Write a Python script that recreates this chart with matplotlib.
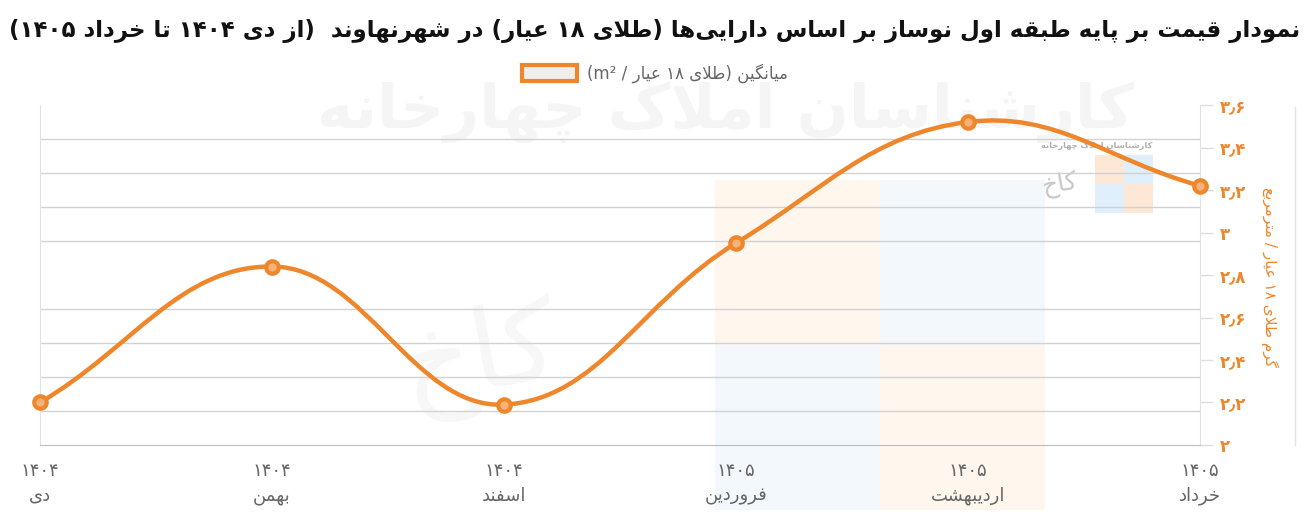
import numpy as np
import matplotlib
matplotlib.use("Agg")
import matplotlib.pyplot as plt
from matplotlib.path import Path
from matplotlib.patches import PathPatch, Patch, Rectangle
from matplotlib.lines import Line2D
import re

# ---------------- data ----------------
years = ["۱۴۰۴", "۱۴۰۴", "۱۴۰۴", "۱۴۰۵", "۱۴۰۵", "۱۴۰۵"]
months = ["دی", "بهمن", "اسفند", "فروردین", "اردیبهشت", "خرداد"]
values = [2.20, 2.84, 2.19, 2.95, 3.52, 3.22]
y_ticks = [2.0, 2.2, 2.4, 2.6, 2.8, 3.0, 3.2, 3.4, 3.6]
y_tick_labels = ["۲", "۲٫۲", "۲٫۴", "۲٫۶", "۲٫۸", "۳", "۳٫۲", "۳٫۴", "۳٫۶"]
title = "نمودار قیمت بر پایه طبقه اول نوساز بر اساس دارایی‌ها (طلای ۱۸ عیار) در شهرنهاوند  (از دی ۱۴۰۴ تا خرداد ۱۴۰۵)"
series_name = "میانگین (طلای ۱۸ عیار / m²)"
y_title = "گرم طلای ۱۸ عیار / مترمربع"
watermark = "کارشناسان املاک چهارخانه"

# ---------------- simple Persian shaping + bidi ----------------
FORMS = {
    'ا': (0xFE8D, 0xFE8E), 'آ': (0xFE81, 0xFE82),
    'ب': (0xFE8F, 0xFE90, 0xFE91, 0xFE92), 'پ': (0xFB56, 0xFB57, 0xFB58, 0xFB59),
    'ت': (0xFE95, 0xFE96, 0xFE97, 0xFE98), 'ث': (0xFE99, 0xFE9A, 0xFE9B, 0xFE9C),
    'ج': (0xFE9D, 0xFE9E, 0xFE9F, 0xFEA0), 'چ': (0xFB7A, 0xFB7B, 0xFB7C, 0xFB7D),
    'ح': (0xFEA1, 0xFEA2, 0xFEA3, 0xFEA4), 'خ': (0xFEA5, 0xFEA6, 0xFEA7, 0xFEA8),
    'د': (0xFEA9, 0xFEAA), 'ذ': (0xFEAB, 0xFEAC), 'ر': (0xFEAD, 0xFEAE),
    'ز': (0xFEAF, 0xFEB0), 'ژ': (0xFB8A, 0xFB8B),
    'س': (0xFEB1, 0xFEB2, 0xFEB3, 0xFEB4), 'ش': (0xFEB5, 0xFEB6, 0xFEB7, 0xFEB8),
    'ص': (0xFEB9, 0xFEBA, 0xFEBB, 0xFEBC), 'ض': (0xFEBD, 0xFEBE, 0xFEBF, 0xFEC0),
    'ط': (0xFEC1, 0xFEC2, 0xFEC3, 0xFEC4), 'ظ': (0xFEC5, 0xFEC6, 0xFEC7, 0xFEC8),
    'ع': (0xFEC9, 0xFECA, 0xFECB, 0xFECC), 'غ': (0xFECD, 0xFECE, 0xFECF, 0xFED0),
    'ف': (0xFED1, 0xFED2, 0xFED3, 0xFED4), 'ق': (0xFED5, 0xFED6, 0xFED7, 0xFED8),
    'ک': (0xFB8E, 0xFB8F, 0xFB90, 0xFB91), 'گ': (0xFB92, 0xFB93, 0xFB94, 0xFB95),
    'ل': (0xFEDD, 0xFEDE, 0xFEDF, 0xFEE0), 'م': (0xFEE1, 0xFEE2, 0xFEE3, 0xFEE4),
    'ن': (0xFEE5, 0xFEE6, 0xFEE7, 0xFEE8), 'ه': (0xFEE9, 0xFEEA, 0xFEEB, 0xFEEC),
    'و': (0xFEED, 0xFEEE), 'ی': (0xFBFC, 0xFBFD, 0xFBFE, 0xFBFF),
}


def _dual(c):
    return c in FORMS and len(FORMS[c]) == 4


def shape(s):
    out = []
    i = 0
    n = len(s)
    while i < n:
        c = s[i]
        if c not in FORMS:
            if c != '\u200c':
                out.append(c)
            i += 1
            continue
        prev = s[i - 1] if i > 0 else None
        cp = prev is not None and _dual(prev)
        if c == 'ل' and i + 1 < n and s[i + 1] in ('ا', 'آ'):
            if s[i + 1] == 'ا':
                out.append(chr(0xFEFC if cp else 0xFEFB))
            else:
                out.append(chr(0xFEF6 if cp else 0xFEF5))
            i += 2
            continue
        nxt = s[i + 1] if i + 1 < n else None
        cn = _dual(c) and nxt is not None and nxt in FORMS
        f = FORMS[c]
        if cp and cn:
            g = f[3]
        elif cp:
            g = f[1]
        elif cn:
            g = f[2]
        else:
            g = f[0]
        out.append(chr(g))
        i += 1
    return ''.join(out)


MIRROR = {'(': ')', ')': '('}


def fa(s):
    lines = []
    for line in s.split('\n'):
        sh = shape(line)
        runs = re.split(r'([0-9۰-۹٫A-Za-z²]+)', sh)
        vis = []
        for r in reversed(runs):
            if r == '':
                continue
            if re.fullmatch(r'[0-9۰-۹٫A-Za-z²]+', r):
                vis.append(r)
            else:
                vis.append(''.join(MIRROR.get(ch, ch) for ch in reversed(r)))
        lines.append(''.join(vis))
    return '\n'.join(lines)


# ---------------- figure ----------------
W, H = 1310, 524
fig = plt.figure(figsize=(W / 100, H / 100), dpi=100)
plt.rcParams['font.family'] = ['DejaVu Sans']

ORANGE = '#EE872C'
GRAY_TXT = '#666666'

ax = fig.add_axes([40 / W, 79 / H, 1160 / W, 340 / H])
ax.set_facecolor('none')
x = np.arange(len(values))
ax.set_xlim(0, len(values) - 1)
ax.set_ylim(y_ticks[0], y_ticks[-1])

# watermark decorations (behind)
fig.text(725 / W, 1 - 112 / H, fa(watermark), ha='center', va='center',
         fontsize=44, fontweight='bold', color='#f5f5f5', zorder=-5)
for (x0, y0, c) in [(715, 180, '#fff6ee'), (880, 180, '#f3f8fd'),
                    (715, 345, '#f3f8fd'), (880, 345, '#fff6ee')]:
    fig.add_artist(Rectangle((x0 / W, 1 - (y0 + 165) / H), 165 / W, 165 / H,
                             transform=fig.transFigure, facecolor=c,
                             edgecolor='none', zorder=-6))
for (x0, y0, c) in [(1095, 155, '#fde3cc'), (1124, 155, '#d8ebfa'),
                    (1095, 184, '#d8ebfa'), (1124, 184, '#fde3cc')]:
    fig.add_artist(Rectangle((x0 / W, 1 - (y0 + 29) / H), 29 / W, 29 / H,
                             transform=fig.transFigure, facecolor=c,
                             edgecolor='none', zorder=-6, alpha=0.8))
fig.text(1097 / W, 1 - 145 / H, fa(watermark), ha='center', va='center',
         fontsize=6, fontweight='bold', color='#b0b0b0', zorder=-5)
fig.text(1060 / W, 1 - 185 / H, fa("کاخ"), ha='center', va='center',
         fontsize=18, color='#c8c8c8', rotation=10, zorder=-5)
fig.text(480 / W, 1 - 360 / H, fa("کاخ"), ha='center', va='center',
         fontsize=80, color='#f7f7f7', rotation=10, zorder=-5)

# grid (10 intervals, independent of labelled ticks)
ax.set_yticks(np.linspace(y_ticks[0], y_ticks[-1], 11), minor=True)
ax.grid(True, which='minor', axis='y', color='#d2d2d2', linewidth=1)
ax.grid(False, which='major')
ax.tick_params(axis='y', which='minor', length=0)

# right axis ticks
ax.yaxis.tick_right()
ax.set_yticks(y_ticks)
ax.set_yticklabels(y_tick_labels)
ax.tick_params(axis='y', which='major', length=9, width=1, color='#dddddd',
               labelcolor=ORANGE, labelsize=12, pad=5)
for lab in ax.get_yticklabels():
    lab.set_fontweight('bold')

ax.set_xticks(x)
ax.set_xticklabels([fa(f"{yv}\n{m}") for yv, m in zip(years, months)],
                   fontsize=13, color=GRAY_TXT, linespacing=1.5)
ax.tick_params(axis='x', length=0, pad=12)

ax.spines['top'].set_visible(False)
ax.spines['left'].set_color('#e2e2e2')
ax.spines['right'].set_color('#e2e2e2')
ax.spines['bottom'].set_color('#bdbdbd')

# right axis title
fig.text(1270 / W, 1 - 277 / H, fa(y_title), rotation=270, ha='center',
         va='center', fontsize=11, color=ORANGE)
fig.add_artist(Line2D([1295 / W, 1295 / W], [1 - 107 / H, 1 - 445 / H],
                      transform=fig.transFigure, color='#e4e4e4', lw=1))

# smooth curve (Chart.js-like spline, tension 0.4) computed in pixel space
bb = ax.get_window_extent()
sx = bb.width / (len(values) - 1)
sy = bb.height / (y_ticks[-1] - y_ticks[0])
P = np.column_stack([x * sx, np.array(values) * sy])
t = 0.4
verts = [tuple(P[0])]
codes = [Path.MOVETO]
cps = []
for i in range(len(P)):
    prev = P[i - 1] if i > 0 else P[i]
    nxt = P[i + 1] if i < len(P) - 1 else P[i]
    d01 = np.hypot(*(P[i] - prev))
    d12 = np.hypot(*(nxt - P[i]))
    tot = d01 + d12
    s01 = d01 / tot if tot else 0
    s12 = d12 / tot if tot else 0
    cps.append((P[i] - t * s01 * (nxt - prev), P[i] + t * s12 * (nxt - prev)))
for i in range(1, len(P)):
    verts += [tuple(cps[i - 1][1]), tuple(cps[i][0]), tuple(P[i])]
    codes += [Path.CURVE4] * 3
verts = [(vx / sx, vy / sy) for vx, vy in verts]
ax.add_patch(PathPatch(Path(verts, codes), facecolor='none', edgecolor=ORANGE,
                       linewidth=3.2, zorder=3, clip_on=False))
ax.plot(x, values, linestyle='none', marker='o', markersize=9,
        markerfacecolor='#f7b27a', markeredgecolor=ORANGE, markeredgewidth=3,
        zorder=4, clip_on=False)

# title
fig.text(0.5, 1 - 31 / H, fa(title), ha='center', va='center', fontsize=16.5,
         fontweight='bold', color='#111111')

# legend
handle = Patch(facecolor='#eeeeee', edgecolor=ORANGE, linewidth=3)
fig.legend([handle], [fa(series_name)], loc='center', bbox_to_anchor=(655 / W, 1 - 73 / H),
           frameon=False, fontsize=12, labelcolor=GRAY_TXT, handlelength=3.3,
           handleheight=1.1, handletextpad=0.6)

fig.savefig('out.png', dpi=100)
